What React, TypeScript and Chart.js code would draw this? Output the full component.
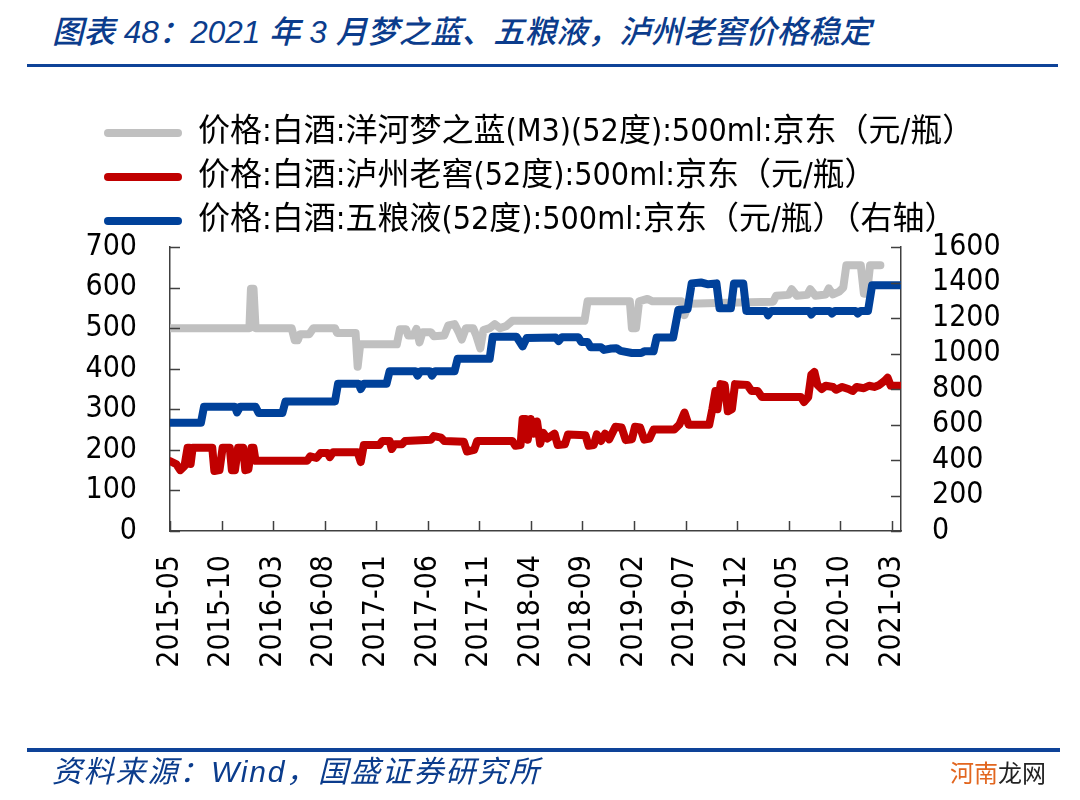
import React, { useEffect, useRef } from 'react';
import { Chart, registerables } from 'chart.js';

Chart.register(...registerables);

// x positions are months counted from 2015-05 (0 = 2015-05)
const xTickLabels = [
  '2015-05', '2015-10', '2016-03', '2016-08', '2017-01', '2017-06', '2017-11', '2018-04',
  '2018-09', '2019-02', '2019-07', '2019-12', '2020-05', '2020-10', '2021-03',
];

const seriesNames = [
  '价格:白酒:洋河梦之蓝(M3)(52度):500ml:京东（元/瓶）',
  '价格:白酒:泸州老窖(52度):500ml:京东（元/瓶）',
  '价格:白酒:五粮液(52度):500ml:京东（元/瓶）（右轴）',
];

// 洋河梦之蓝 M3 (left axis)
const mengMonths = [
  0, 7.7, 7.85, 8.1, 8.3, 11.8, 12.1, 12.4, 12.6, 13.5, 13.9, 16.0, 16.2, 18.0, 18.2, 18.45,
  22.0, 22.3, 22.9, 23.1, 23.6, 23.9, 24.2, 24.5, 25.3, 25.6, 26.6, 27.0, 27.6, 28.0, 28.3, 28.7,
  29.4, 29.7, 30.1, 30.4, 31.0, 31.5, 32.0, 32.6, 33.2, 40.2, 40.5, 44.6, 44.8, 45.2, 45.5, 46.3,
  46.8, 49.6, 49.9, 50.3, 53.0, 58.5, 58.8, 60.0, 60.3, 60.8, 61.8, 62.1, 62.6, 63.6, 63.9, 64.3,
  64.9, 65.3, 65.6, 67.0, 67.3, 67.6, 67.9, 68.9,
];
const mengPrices = [
  500, 500, 597, 597, 500, 500, 470, 470, 485, 485, 500, 500, 488, 488, 405, 460,
  460, 497, 497, 482, 482, 498, 465, 490, 490, 480, 482, 507, 510, 490, 472, 500,
  500, 482, 450, 495, 500, 510, 500, 505, 518, 518, 566, 566, 500, 500, 566, 572,
  566, 566, 532, 560, 562, 565, 580, 582, 596, 580, 582, 596, 580, 583, 598, 583,
  590, 600, 655, 655, 585, 585, 655, 655,
];

// 泸州老窖 (left axis)
const lzljMonths = [
  0, 0.6, 1.0, 1.4, 1.7, 1.9, 2.0, 2.2, 4.1, 4.3, 4.8, 5.1, 5.8, 6.0, 6.3, 6.6,
  7.1, 7.3, 7.6, 7.9, 8.1, 8.3, 13.3, 13.6, 14.2, 14.6, 15.3, 15.5, 15.8, 18.2, 18.5, 18.8,
  20.3, 20.6, 21.3, 21.5, 21.8, 22.5, 22.8, 25.3, 25.6, 26.3, 26.6, 28.5, 28.8, 29.5, 29.8, 33.2,
  33.5, 34.0, 34.2, 34.5, 34.7, 35.0, 35.3, 35.6, 35.9, 36.2, 36.6, 37.3, 37.6, 38.3, 38.6, 40.3,
  40.6, 41.1, 41.4, 41.8, 42.2, 42.6, 43.2, 43.8, 44.2, 44.8, 45.1, 45.6, 46.0, 46.5, 46.9, 48.9,
  49.4, 49.9, 50.3, 52.3, 52.6, 52.9, 53.1, 53.4, 53.8, 54.1, 54.5, 54.8, 56.0, 56.4, 57.0, 57.4,
  61.2, 61.5, 61.9, 62.2, 62.5, 62.8, 63.2, 63.6, 64.3, 64.6, 65.2, 65.8, 66.2, 66.6, 67.3, 67.8,
  68.3, 68.8, 69.3, 69.6, 69.9, 70.9,
];
const lzljPrices = [
  172, 165, 150, 160, 205, 205, 165, 205, 205, 148, 150, 205, 205, 150, 150, 205,
  205, 150, 152, 205, 205, 173, 173, 184, 180, 192, 192, 182, 194, 194, 170, 212,
  212, 222, 222, 202, 214, 214, 222, 225, 234, 230, 222, 220, 196, 200, 222, 222,
  210, 212, 276, 276, 225, 276, 240, 270, 215, 242, 228, 240, 212, 214, 238, 236,
  210, 212, 238, 222, 240, 226, 257, 255, 224, 226, 257, 255, 225, 228, 250, 250,
  262, 292, 262, 262, 300, 345, 300, 362, 360, 295, 300, 362, 360, 345, 345, 330,
  330, 318, 330, 385, 392, 360, 350, 358, 355, 348, 355, 350, 345, 355, 352, 358,
  355, 360, 370, 378, 358, 358,
];

// 五粮液 (right axis)
const wlyMonths = [
  0, 3.0, 3.3, 6.3, 6.5, 6.8, 8.3, 8.6, 10.9, 11.2, 16.0, 16.3, 18.3, 18.5, 18.8, 21.0,
  21.3, 23.8, 24.0, 24.3, 25.2, 25.4, 25.7, 27.6, 27.9, 31.0, 31.3, 33.6, 34.2, 34.6, 37.4, 37.7,
  38.0, 39.6, 39.9, 40.5, 40.8, 41.8, 42.1, 42.8, 43.3, 43.7, 44.8, 45.7, 46.0, 46.9, 47.2, 48.8,
  49.3, 50.2, 50.6, 51.5, 52.2, 53.0, 53.3, 54.4, 54.7, 55.6, 55.9, 57.8, 58.0, 58.3, 62.0, 62.2,
  62.5, 64.0, 64.2, 64.5, 66.5, 66.7, 67.0, 67.7, 68.1, 70.9,
];
const wlyPrices = [
  610, 610, 700, 700, 668, 700, 700, 665, 665, 730, 730, 830, 830, 800, 830, 830,
  900, 900, 875, 900, 900, 875, 900, 900, 970, 970, 1095, 1095, 1040, 1088, 1090, 1070,
  1092, 1092, 1065, 1065, 1035, 1035, 1020, 1028, 1030, 1015, 1003, 1003, 1012, 1012, 1090, 1090,
  1245, 1250, 1395, 1400, 1390, 1395, 1255, 1255, 1395, 1395, 1240, 1240, 1215, 1240, 1240, 1220,
  1240, 1240, 1225, 1240, 1240, 1225, 1240, 1240, 1385, 1385,
];

const seriesColors = ['#C0C0C0', '#C00000', '#00419A'];

const TICK_FONT = "'DejaVu Sans Condensed', 'DejaVu Sans', 'Noto Sans CJK SC', sans-serif";

const toPoints = (xs: number[], ys: number[]) => xs.map((x, i) => ({ x, y: ys[i] }));

const innerTicks = {
  id: 'innerTicks',
  afterLayout(chart: any) {
    // move the legend so that its first marker starts where the reference one does
    if (chart.legend) {
      chart.legend.left += 18;
      chart.legend.right += 18;
    }
  },
  afterDraw(chart: any) {
    const { ctx, chartArea, scales } = chart;
    const len = 10;
    ctx.save();
    ctx.strokeStyle = '#404040';
    ctx.lineWidth = 1.5;
    ctx.beginPath();
    scales.x.ticks.forEach((t: any) => {
      const px = Math.round(scales.x.getPixelForValue(t.value)) + 0.5;
      ctx.moveTo(px, chartArea.bottom);
      ctx.lineTo(px, chartArea.bottom - len);
    });
    scales.y.ticks.forEach((t: any) => {
      const py = Math.round(scales.y.getPixelForValue(t.value)) + 0.5;
      ctx.moveTo(chartArea.left, py);
      ctx.lineTo(chartArea.left + len, py);
    });
    scales.y1.ticks.forEach((t: any) => {
      const py = Math.round(scales.y1.getPixelForValue(t.value)) + 0.5;
      ctx.moveTo(chartArea.right, py);
      ctx.lineTo(chartArea.right - len, py);
    });
    ctx.stroke();
    ctx.restore();
  },
};

function PriceChart() {
  const ref = useRef<HTMLCanvasElement | null>(null);
  useEffect(() => {
    if (!ref.current) return;
    const common = {
      pointRadius: 0,
      pointHoverRadius: 0,
      borderWidth: 8,
      tension: 0,
      borderJoinStyle: 'round' as const,
      borderCapStyle: 'round' as const,
      fill: false,
    };
    const chart = new Chart(ref.current, {
      type: 'line',
      data: {
        datasets: [
          { ...common, label: seriesNames[0], data: toPoints(mengMonths, mengPrices), borderColor: seriesColors[0], backgroundColor: seriesColors[0], yAxisID: 'y', order: 2 },
          { ...common, label: seriesNames[1], data: toPoints(lzljMonths, lzljPrices), borderColor: seriesColors[1], backgroundColor: seriesColors[1], yAxisID: 'y', order: 1 },
          { ...common, label: seriesNames[2], data: toPoints(wlyMonths, wlyPrices), borderColor: seriesColors[2], backgroundColor: seriesColors[2], yAxisID: 'y1', order: 0 },
        ],
      },
      options: {
        responsive: false,
        animation: false,
        events: [],
        layout: { padding: { left: 74, right: 59, top: 105, bottom: 119 } },
        plugins: {
          tooltip: { enabled: false },
          title: { display: false },
          legend: {
            display: true,
            position: 'top',
            align: 'start',
            labels: {
              boxWidth: 78,
              boxHeight: 8,
              padding: 12,
              color: '#000',
              font: { size: 32, family: TICK_FONT },
              sort: (a: any, b: any) => a.datasetIndex - b.datasetIndex,
              generateLabels: (c: any) =>
                c.data.datasets.map((ds: any, i: number) => ({
                  text: ds.label,
                  fillStyle: ds.borderColor,
                  strokeStyle: ds.borderColor,
                  lineWidth: 0,
                  hidden: false,
                  datasetIndex: i,
                  borderRadius: 4,
                  fontColor: '#000',
                })),
            },
          },
        },
        scales: {
          x: {
            type: 'linear',
            min: 0,
            max: 70.9,
            afterFit: (s: any) => { s.height = 150; },
            grid: { display: false, drawTicks: false },
            border: { display: true, color: '#404040', width: 1.5 },
            ticks: {
              stepSize: 5,
              autoSkip: false,
              includeBounds: false,
              maxRotation: 90,
              minRotation: 90,
              padding: 24,
              color: '#000',
              font: { size: 30, family: TICK_FONT },
              callback: (v: any) => xTickLabels[Math.round(Number(v) / 5)] ?? '',
            },
          },
          y: {
            type: 'linear',
            position: 'left',
            min: 0,
            max: 700,
            afterFit: (s: any) => { s.width = 96; },
            grid: { display: false, drawTicks: false },
            border: { display: true, color: '#404040', width: 1.5 },
            ticks: {
              stepSize: 100, autoSkip: false, padding: 33, color: '#000',
              font: { size: 30, family: TICK_FONT },
              callback: (v: any) => String(v),
            },
          },
          y1: {
            type: 'linear',
            position: 'right',
            min: 0,
            max: 1600,
            afterFit: (s: any) => { s.width = 120; },
            grid: { display: false, drawTicks: false },
            border: { display: true, color: '#404040', width: 1.5 },
            ticks: {
              stepSize: 200, autoSkip: false, padding: 31, color: '#000',
              font: { size: 30, family: TICK_FONT },
              callback: (v: any) => String(v),
            },
          },
        },
      },
      plugins: [innerTicks],
    } as any);
    return () => chart.destroy();
  }, []);
  return <canvas ref={ref} width={1080} height={800} style={{ position: 'absolute', left: 0, top: 0, width: 1080, height: 800 }} />;
}

export default function App() {
  return (
    <div style={{ position: 'fixed', left: 0, top: 0, width: 1080, height: 800, background: '#fff', overflow: 'hidden' }}>
      <div
        style={{
          position: 'absolute', left: 52, top: 12, lineHeight: '40px', whiteSpace: 'nowrap',
          fontFamily: "'Liberation Sans', 'Noto Sans CJK SC', sans-serif", fontStyle: 'italic',
          fontWeight: 500, fontSize: 31.5, color: '#0B3C8C',
        }}
      >
        图表 48：2021 年 3 月梦之蓝、五粮液，泸州老窖价格稳定
      </div>
      <div style={{ position: 'absolute', left: 27, top: 64, width: 1031, height: 3, background: '#0E4398' }} />
      <PriceChart />
      <div style={{ position: 'absolute', left: 27, top: 748, width: 1033, height: 4, background: '#0E4398' }} />
      <div
        style={{
          position: 'absolute', left: 52, top: 752, lineHeight: '40px', whiteSpace: 'nowrap',
          fontFamily: "'Liberation Sans', 'Noto Sans CJK SC', sans-serif", fontStyle: 'italic',
          fontSize: 30, letterSpacing: 1.8, color: '#0B3C8C',
        }}
      >
        资料来源：Wind，国盛证券研究所
      </div>
      <div
        style={{
          position: 'absolute', left: 950, top: 756, lineHeight: '32px', whiteSpace: 'nowrap',
          fontFamily: "'Noto Sans CJK SC', sans-serif", fontSize: 24,
        }}
      >
        <span style={{ color: '#E2661F' }}>河南</span>
        <span style={{ color: '#222' }}>龙网</span>
      </div>
    </div>
  );
}
